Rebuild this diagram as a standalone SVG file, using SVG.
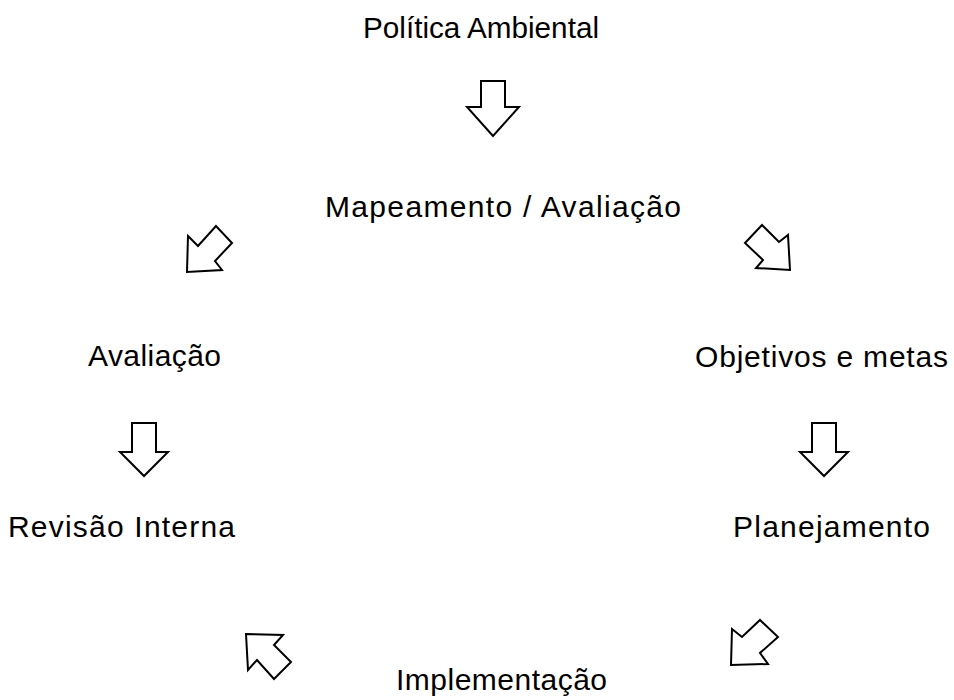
<svg xmlns="http://www.w3.org/2000/svg" width="954" height="700" viewBox="0 0 954 700">
<style>
text{font-family:"Liberation Sans",Arial,sans-serif;font-size:30px;fill:#000}
.arr{fill:#fff;stroke:#000;stroke-width:2;stroke-linejoin:miter}
</style>
<rect width="954" height="700" fill="#fff"/>
<g id="n1"><text x="363" y="38" textLength="236" lengthAdjust="spacingAndGlyphs">Política Ambiental</text></g>
<g id="n2"><text x="325" y="217" textLength="356" lengthAdjust="spacing">Mapeamento / Avaliação</text></g>
<g id="n3"><text x="88" y="366" textLength="133" lengthAdjust="spacing">Avaliação</text></g>
<g id="n4"><text x="695" y="367" textLength="253" lengthAdjust="spacing">Objetivos e metas</text></g>
<g id="n5"><text x="8" y="537" textLength="227" lengthAdjust="spacing">Revisão Interna</text></g>
<g id="n6"><text x="733" y="537" textLength="197" lengthAdjust="spacing">Planejamento</text></g>
<g id="n7"><text x="396" y="690" textLength="211" lengthAdjust="spacing">Implementação</text></g>
<g id="connectors">
<polygon class="arr" points="481,81 505,81 505,107 519,107 493,136 467,107 481,107"/>
<polygon class="arr" points="188,236 198,246 216,226 232,243 215,261 222,270 187,272"/>
<polygon class="arr" points="745,243 762,225 779,242 788,235 790,270 756,268 763,260"/>
<polygon class="arr" points="132,423 156,423 156,452 168,452 144,476 120,452 132,452"/>
<polygon class="arr" points="812,423 836,423 836,452 848,452 824,476 800,452 812,452"/>
<polygon class="arr" points="732,629 742,637 760,620 778,637 760,653 768,664 731,665"/>
<polygon class="arr" points="246,634 283,635 274,645 291,662 274,679 257,660 248,670"/>
</g>
</svg>
